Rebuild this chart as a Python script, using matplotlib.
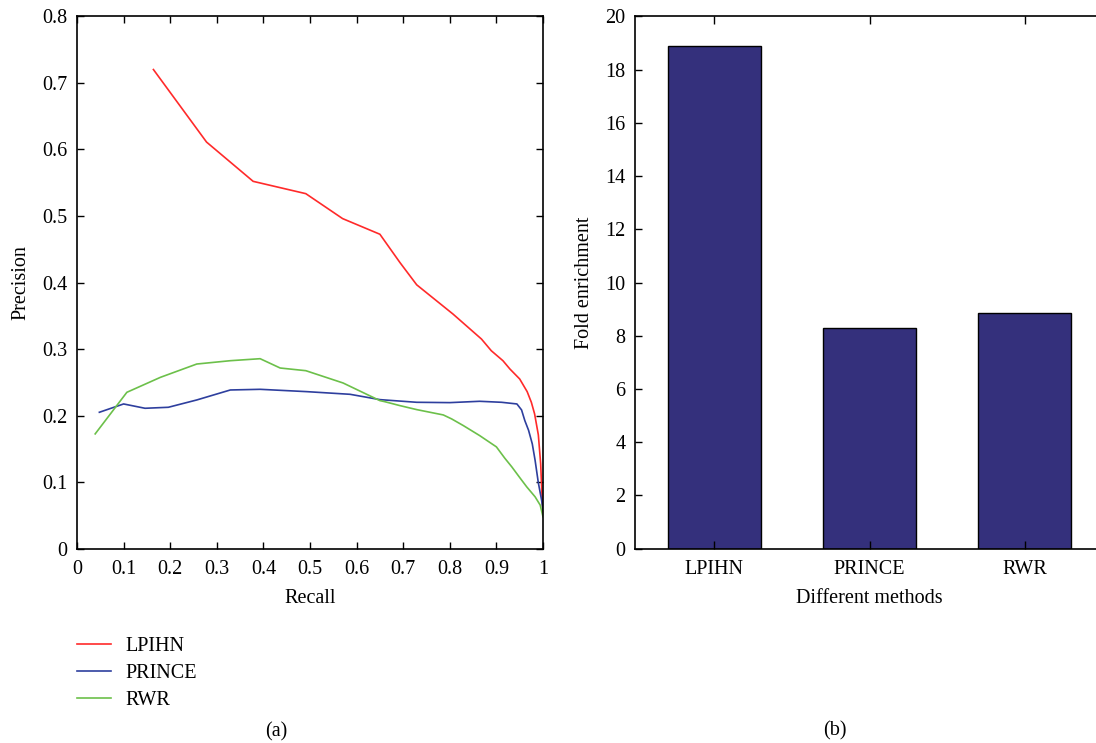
import matplotlib
matplotlib.use('Agg')
import matplotlib.pyplot as plt

plt.rcParams['font.family'] = ['Liberation Serif', 'DejaVu Serif']

# precision / recall curves
lpihn_recall = [0.164, 0.278, 0.378, 0.491, 0.57, 0.65, 0.693, 0.729, 0.807, 0.868, 0.889,
                0.914, 0.929, 0.95, 0.966, 0.975, 0.982, 0.99, 0.995, 0.998, 1.0]
lpihn_prec = [0.720, 0.611, 0.552, 0.5335, 0.496, 0.4725, 0.43, 0.3965, 0.3525, 0.315, 0.2975,
              0.2825, 0.27, 0.255, 0.236, 0.22, 0.2025, 0.171, 0.1275, 0.0775, 0.0525]

prince_recall = [0.048, 0.1, 0.146, 0.196, 0.257, 0.329, 0.393, 0.493, 0.586, 0.65, 0.729,
                 0.8, 0.864, 0.911, 0.944, 0.954, 0.961, 0.969, 0.977, 0.983, 0.99, 0.997, 1.0]
prince_prec = [0.205, 0.2175, 0.211, 0.2125, 0.2235, 0.2385, 0.2395, 0.236, 0.232, 0.224, 0.22,
               0.2195, 0.2215, 0.22, 0.2175, 0.2085, 0.1925, 0.178, 0.1575, 0.133, 0.099, 0.073, 0.058]

rwr_recall = [0.039, 0.107, 0.179, 0.257, 0.329, 0.393, 0.436, 0.491, 0.571, 0.65, 0.66, 0.693,
              0.729, 0.786, 0.804, 0.829, 0.864, 0.9, 0.918, 0.933, 0.951, 0.965, 0.983, 0.994, 1.0]
rwr_prec = [0.1725, 0.235, 0.2575, 0.2775, 0.2825, 0.2855, 0.2715, 0.2675, 0.249, 0.2225, 0.221, 0.215,
            0.209, 0.201, 0.195, 0.185, 0.17, 0.153, 0.136, 0.123, 0.106, 0.093, 0.078, 0.0655, 0.048]

# fold enrichment per method
methods = ['LPIHN', 'PRINCE', 'RWR']
fold = [18.9, 8.3, 8.85]

fs = 14.5

fig = plt.figure(figsize=(10.96, 7.43), dpi=100)

ax1 = fig.add_axes([77/1096, 1 - 548.7/743, 466/1096, 532.4/743])
l1, = ax1.plot(lpihn_recall, lpihn_prec, color='#FF2A2A', lw=1.2)
l2, = ax1.plot(prince_recall, prince_prec, color='#2E3F9E', lw=1.2)
l3, = ax1.plot(rwr_recall, rwr_prec, color='#6CC04A', lw=1.2)
ax1.set_xlim(0, 1)
ax1.set_ylim(0, 0.8)
ax1.set_xticks([i / 10 for i in range(11)])
ax1.set_xticklabels(['0'] + ['0.%d' % i for i in range(1, 10)] + ['1'])
ax1.set_yticks([i / 10 for i in range(9)])
ax1.set_yticklabels(['0'] + ['0.%d' % i for i in range(1, 9)])
ax1.set_xlabel('Recall', fontsize=fs, labelpad=7)
ax1.set_ylabel('Precision', fontsize=fs, labelpad=8)

fig.legend([l1, l2, l3], ['LPIHN', 'PRINCE', 'RWR'], loc='upper left',
           bbox_to_anchor=(77/1096, 1 - 637/743), frameon=False, fontsize=fs,
           handlelength=1.7, handletextpad=0.7, labelspacing=0.38,
           borderpad=0, borderaxespad=0)

ax2 = fig.add_axes([635/1096, 1 - 548.7/743, 469/1096, 532.4/743])
ax2.bar(range(1, 4), fold, width=0.6, color='#34307C', edgecolor='black', linewidth=1.0)
ax2.set_xlim(0.49, 3.51)
ax2.set_ylim(0, 20)
ax2.set_xticks(range(1, 4))
ax2.set_xticklabels(methods)
ax2.set_yticks(range(0, 21, 2))
ax2.set_xlabel('Different methods', fontsize=fs, labelpad=7)
ax2.set_ylabel('Fold enrichment', fontsize=fs, labelpad=8)

for ax in (ax1, ax2):
    ax.tick_params(direction='in', top=True, right=True, labelsize=fs, length=5, width=1)
    ax.tick_params(axis='x', pad=8)
    ax.tick_params(axis='y', pad=7)
    for s in ax.spines.values():
        s.set_linewidth(1.2)
ax2.tick_params(axis='x', length=6)

fig.text(276/1096, 1 - 732/743, '(a)', ha='center', va='center', fontsize=fs)
fig.text(835/1096, 1 - 731/743, '(b)', ha='center', va='center', fontsize=fs)

fig.savefig('out.png', dpi=100)
